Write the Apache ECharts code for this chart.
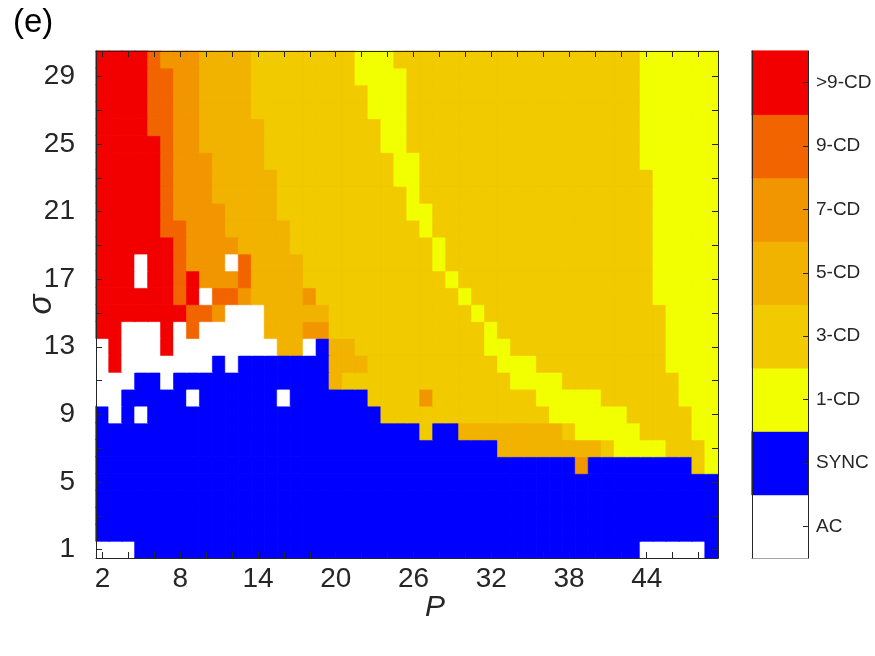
<!DOCTYPE html>
<html>
<head>
<meta charset="utf-8">
<script src="https://cdn.jsdelivr.net/npm/echarts@6/dist/echarts.min.js"></script>
<style>
html,body{margin:0;padding:0;background:#fff;}
#chart{width:875px;height:656px;}
</style>
</head>
<body>
<div id="chart"></div>
<script>
// P values (columns) and sigma values (rows)
const pValues = ['2','3','4','5','6','7','8','9','10','11','12','13','14','15','16','17','18','19','20','21','22','23','24','25','26','27','28','29','30','31','32','33','34','35','36','37','38','39','40','41','42','43','44','45','46','47','48','49'];
const sigmaValues = ['1','2','3','4','5','6','7','8','9','10','11','12','13','14','15','16','17','18','19','20','21','22','23','24','25','26','27','28','29','30'];
// regime classes, index = code
const regimeLabels = ['AC','SYNC','1-CD','3-CD','5-CD','7-CD','9-CD','>9-CD'];
const regimeColors = ['#ffffff','#0000ff','#f2ff00','#f2ca00','#f2b200','#f29600','#f26400','#f20000'];

// regime map: runs of [code, count] along P for each sigma
const regimeRuns = {
  30: [[7,4],[6,1],[5,3],[4,4],[3,8],[2,3],[3,19],[2,6]],
  29: [[7,4],[6,2],[5,2],[4,4],[3,8],[2,4],[3,18],[2,6]],
  28: [[7,4],[6,2],[5,2],[4,4],[3,9],[2,3],[3,18],[2,6]],
  27: [[7,4],[6,2],[5,2],[4,4],[3,9],[2,3],[3,18],[2,6]],
  26: [[7,4],[6,2],[5,2],[4,5],[3,9],[2,2],[3,18],[2,6]],
  25: [[7,5],[6,1],[5,2],[4,5],[3,9],[2,2],[3,18],[2,6]],
  24: [[7,5],[6,1],[5,3],[4,4],[3,10],[2,2],[3,17],[2,6]],
  23: [[7,5],[6,1],[5,3],[4,5],[3,9],[2,2],[3,18],[2,5]],
  22: [[7,5],[6,1],[5,3],[4,5],[3,10],[2,1],[3,18],[2,5]],
  21: [[7,5],[6,1],[5,4],[4,4],[3,10],[2,2],[3,17],[2,5]],
  20: [[7,5],[6,2],[5,3],[4,5],[3,10],[2,1],[3,17],[2,5]],
  19: [[7,6],[6,1],[5,4],[4,4],[3,11],[2,1],[3,16],[2,5]],
  18: [[7,3],[0,1],[7,2],[6,1],[5,3],[0,1],[6,1],[4,4],[3,10],[2,1],[3,16],[2,5]],
  17: [[7,3],[0,1],[7,2],[6,1],[7,1],[5,3],[6,1],[4,4],[3,11],[2,1],[3,15],[2,5]],
  16: [[7,6],[6,1],[7,1],[0,1],[6,2],[5,1],[4,4],[5,1],[3,11],[2,1],[3,14],[2,5]],
  15: [[7,7],[6,2],[5,1],[0,3],[4,5],[3,11],[2,1],[3,14],[2,4]],
  14: [[7,2],[0,3],[7,1],[0,1],[6,1],[0,5],[4,3],[5,2],[3,12],[2,1],[3,13],[2,4]],
  13: [[0,1],[7,1],[0,3],[7,1],[0,8],[4,2],[0,1],[1,1],[4,2],[3,10],[2,2],[3,12],[2,4]],
  12: [[0,1],[7,1],[0,7],[1,1],[0,1],[1,7],[4,3],[3,10],[2,3],[3,10],[2,4]],
  11: [[0,3],[1,2],[0,1],[1,12],[4,1],[3,13],[2,4],[3,9],[2,3]],
  10: [[0,2],[1,5],[0,1],[1,6],[0,1],[1,6],[3,4],[5,1],[3,8],[2,5],[3,6],[2,3]],
  9:  [[1,1],[0,1],[1,1],[0,1],[1,18],[3,13],[2,6],[3,5],[2,2]],
  8:  [[1,25],[3,1],[1,2],[4,8],[3,1],[2,5],[3,4],[2,2]],
  7:  [[1,31],[4,8],[3,1],[2,4],[3,3],[2,1]],
  6:  [[1,37],[5,1],[1,8],[3,1],[2,1]],
  5:  [[1,48]],
  4:  [[1,48]],
  3:  [[1,48]],
  2:  [[1,48]],
  1:  [[0,3],[1,39],[0,5],[1,1]]
};

// build heatmap table [pIndex, sigmaIndex, code]
const cells = [];
sigmaValues.forEach((s, si) => {
  let pi = 0;
  regimeRuns[s].forEach(([code, n]) => {
    for (let k = 0; k < n; k++) {
      cells.push({value: [pi, si, code], itemStyle: {borderColor: regimeColors[code], borderWidth: 0.6}});
      pi++;
    }
  });
});
const legendCells = regimeLabels.map((l, i) => ({value: [0, i, i], itemStyle: {borderColor: regimeColors[i], borderWidth: 0.6}}));

const AX = '#262626';
const FONT = 'Liberation Sans, Arial, Helvetica, sans-serif';
const tickEvery2 = (i) => i % 2 === 0;

const chart = echarts.init(document.getElementById('chart'), null, {renderer: 'canvas'});
chart.setOption({
  animation: false,
  backgroundColor: '#ffffff',
  textStyle: {fontFamily: FONT},
  title: {
    text: '(e)', left: 8, top: 1,
    textStyle: {fontSize: 33, fontWeight: 'normal', color: '#000', fontFamily: FONT}
  },
  graphic: [
    {
      type: 'text', left: 425, top: 593, z: 20,
      style: {text: 'P', fontSize: 30, fontStyle: 'italic', fill: AX, fontFamily: FONT}
    }
  ],
  grid: [
    {left: 96, top: 51, width: 622, height: 507, containLabel: false, outerBoundsMode: 'none'},
    {left: 752, top: 51, width: 56, height: 507, containLabel: false, outerBoundsMode: 'none'}
  ],
  xAxis: [
    {
      type: 'category', gridIndex: 0, data: pValues, position: 'bottom',
      axisLine: {show: true, lineStyle: {color: AX, width: 1}},
      axisTick: {show: true, inside: true, length: 6, alignWithLabel: true, interval: tickEvery2, lineStyle: {color: AX}},
      axisLabel: {interval: (i) => i % 6 === 0, fontSize: 28, color: AX, margin: 7, fontFamily: FONT, hideOverlap: false},
      splitLine: {show: false}, z: 10
    },
    {
      type: 'category', gridIndex: 0, data: pValues, position: 'top',
      axisLine: {show: true, lineStyle: {color: AX, width: 1}},
      axisTick: {show: true, inside: true, length: 6, alignWithLabel: true, interval: tickEvery2, lineStyle: {color: AX}},
      axisLabel: {show: false}, splitLine: {show: false}, z: 10
    },
    {
      type: 'category', gridIndex: 1, data: ['c'], position: 'bottom',
      axisLine: {show: true, lineStyle: {color: AX}}, axisTick: {show: false}, axisLabel: {show: false}
    },
    {
      type: 'category', gridIndex: 1, data: ['c'], position: 'top',
      axisLine: {show: true, lineStyle: {color: AX}}, axisTick: {show: false}, axisLabel: {show: false}
    }
  ],
  yAxis: [
    {
      type: 'category', gridIndex: 0, data: sigmaValues, position: 'left',
      name: 'σ', nameLocation: 'middle', nameGap: 38, nameMoveOverlap: false,
      nameTextStyle: {fontSize: 33, fontStyle: 'italic', color: AX, fontFamily: FONT},
      axisLine: {show: true, lineStyle: {color: AX, width: 1}},
      axisTick: {show: true, inside: true, length: 6, alignWithLabel: true, interval: tickEvery2, lineStyle: {color: AX}},
      axisLabel: {interval: (i) => i % 4 === 0, fontSize: 28, color: AX, margin: 21, fontFamily: FONT},
      splitLine: {show: false}, z: 10
    },
    {
      type: 'category', gridIndex: 0, data: sigmaValues, position: 'right',
      axisLine: {show: true, lineStyle: {color: AX, width: 1}},
      axisTick: {show: true, inside: true, length: 6, alignWithLabel: true, interval: tickEvery2, lineStyle: {color: AX}},
      axisLabel: {show: false}, splitLine: {show: false}, z: 10
    },
    {
      type: 'category', gridIndex: 1, data: regimeLabels, position: 'right',
      axisLine: {show: true, lineStyle: {color: AX, width: 1}},
      axisTick: {show: true, inside: true, length: 5, alignWithLabel: true, lineStyle: {color: AX}},
      axisLabel: {fontSize: 19, color: AX, margin: 8, fontFamily: FONT},
      splitLine: {show: false}, z: 10
    },
    {
      type: 'category', gridIndex: 1, data: regimeLabels, position: 'left',
      axisLine: {show: true, lineStyle: {color: AX, width: 1}},
      axisTick: {show: false}, axisLabel: {show: false}, splitLine: {show: false}, z: 10
    }
  ],
  visualMap: {
    show: false, type: 'piecewise', dimension: 2, seriesIndex: [0, 1],
    pieces: regimeColors.map((c, i) => ({value: i, color: c}))
  },
  series: [
    {
      type: 'heatmap', xAxisIndex: 0, yAxisIndex: 0, data: cells,
      emphasis: {disabled: true}, progressive: 0
    },
    {
      type: 'heatmap', xAxisIndex: 2, yAxisIndex: 2, data: legendCells,
      emphasis: {disabled: true}, progressive: 0
    }
  ]
});
</script>
</body>
</html>
